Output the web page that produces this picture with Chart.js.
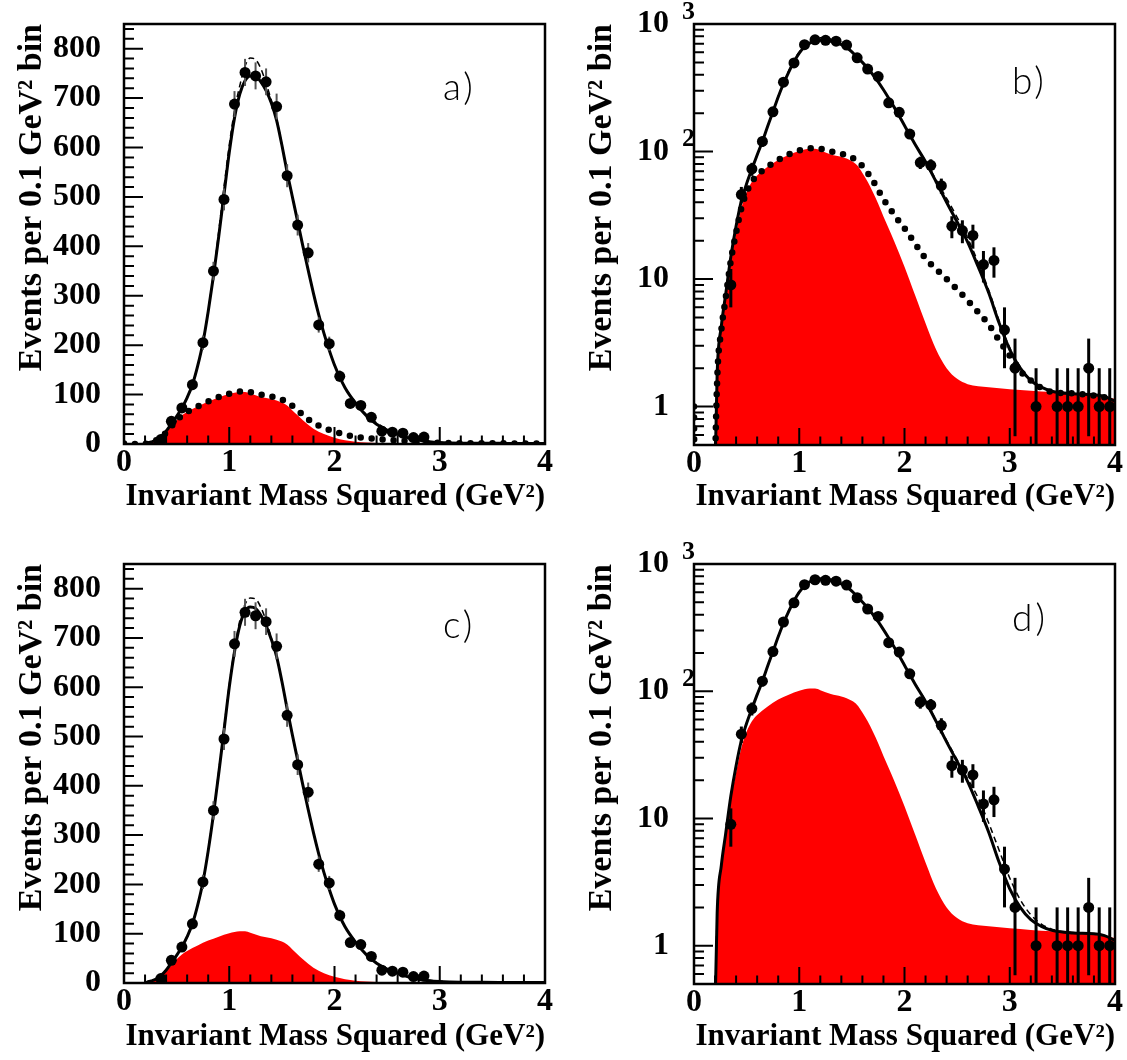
<!DOCTYPE html>
<html><head><meta charset="utf-8">
<script src="https://cdn.jsdelivr.net/npm/chart.js@4.4.0/dist/chart.umd.min.js"></script>
<style>
html,body{margin:0;padding:0;background:#fff;}
#wrap{position:relative;width:1127px;height:1060px;overflow:hidden;background:#fff;}
canvas{position:absolute;}
</style></head><body><div id="wrap">
<canvas id="pa" width="563" height="530" style="left:0;top:0;width:563px;height:530px"></canvas>
<canvas id="pb" width="564" height="530" style="left:563px;top:0;width:564px;height:530px"></canvas>
<canvas id="pc" width="563" height="530" style="left:0;top:530px;width:563px;height:530px"></canvas>
<canvas id="pd" width="564" height="530" style="left:563px;top:530px;width:564px;height:530px"></canvas>
</div>
<script>
// ---------------- data ----------------
const binCenters = [0.05,0.15,0.25,0.35,0.45,0.55,0.65,0.75,0.85,0.95,
                    1.05,1.15,1.25,1.35,1.45,1.55,1.65,1.75,1.85,1.95,
                    2.05,2.15,2.25,2.35,2.45,2.55,2.65,2.75,2.85,2.95,
                    3.05,3.15,3.25,3.35,3.45,3.55,3.65,3.75,3.85,3.95];
const counts = [0,0,0,9,46,73,120,205,350,495,
                688,752,745,733,683,543,443,387,241,203,
                137,82,78,54,26,24,22,13,14,4,
                2,0,1,0,1,1,1,2,1,1];

const fitX = [0.20,0.22,0.26,0.30,0.35,0.40,0.45,0.50,0.55,0.60,
              0.65,0.70,0.75,0.80,0.85,0.90,0.95,1.00,1.05,1.10,
              1.15,1.20,1.25,1.30,1.35,1.40,1.45,1.50,1.55,1.60,
              1.65,1.70,1.75,1.80,1.85,1.90,1.95,2.00,2.10,2.20,
              2.30,2.40,2.50,2.60,2.70,2.80,2.90,3.00,3.10,3.20,
              3.30,3.40,3.60,3.80,3.90,4.00];
const totalAB = [0.3,1.8,4.3,7.5,15,26,41,56,73,94,
                 120,158,205,268,340,420,505,590,660,708,
                 735,745,744,733,715,690,655,605,550,500,
                 450,400,352,305,262,224,190,160,114,83,
                 58,40,28,19.5,12.5,7.8,4.5,2.8,2.0,1.6,
                 1.42,1.32,1.26,1.24,1.2,1.1];
const dashedAB = [0.3,1.8,4.3,7.5,15,26,41,56,73,94,
                  120,158,205,270,345,430,520,605,675,725,
                  765,781,778,760,730,696,658,606,550,500,
                  450,400,352,305,262,224,190,160,115,84,
                  60,43,30.5,21,13.5,8.2,4.7,2.9,2.05,1.62,
                  1.43,1.33,1.26,1.24,1.2,1.1];
const totalCD = [0.3,1.8,4.3,7.5,15,26,41,56,73,94,
                 120,158,205,268,342,425,512,600,672,725,
                 754,763,760,746,725,697,662,612,556,503,
                 452,401,352,305,262,224,190,160,114,83,
                 58,40,28,19.5,12.5,7.8,4.5,2.8,2.0,1.6,
                 1.42,1.32,1.26,1.24,1.2,1.1];
const dashedCD = [0.3,1.8,4.3,7.5,15,26,41,56,73,94,
                  120,158,205,270,345,430,518,605,678,735,
                  768,781,779,762,735,700,664,612,556,503,
                  452,401,352,305,262,224,190,160,115,84,
                  59,41,29,20.5,14.5,9.2,5.6,3.4,2.3,1.75,
                  1.48,1.35,1.27,1.24,1.2,1.1];

const redX = [0.20,0.22,0.26,0.30,0.35,0.40,0.45,0.50,0.55,0.60,
              0.70,0.80,0.90,1.00,1.10,1.15,1.20,1.30,1.40,1.50,
              1.55,1.60,1.65,1.70,1.75,1.80,1.90,2.00,2.10,2.20,
              2.30,2.40,2.50,2.60,2.80,3.00,3.20,3.40,3.60,3.80,4.00];
const redY = [0.3,1.6,4.0,7.0,14,23,36,48,58,65,
              76,86,94,101,105,105,102,95,91,84,
              78,68,58,48,39,31,20,12.5,7.5,4.5,
              2.8,2.0,1.65,1.5,1.42,1.37,1.33,1.3,1.27,1.22,1.15];

const dotX = [0.00,0.01,0.19,0.20,0.22,0.26,0.30,0.35,0.40,0.45,
              0.50,0.55,0.60,0.70,0.80,0.90,1.00,1.10,1.20,1.30,
              1.40,1.50,1.55,1.60,1.65,1.70,1.75,1.80,1.85,1.90,
              2.00,2.10,2.20,2.30,2.40,2.50,2.60,2.70,2.80,2.90,
              3.00,3.10,3.20,3.30,3.40,3.60,3.80,4.00];
const dotY = [1.0,0.05,0.05,0.3,1.6,4.0,7.0,14,23,36,
              48,58,65,76,86,95,102,106,105,100,
              96,90,84,77,68,59,50,42,37,32,
              25,19,14.5,12,10,8.3,6.8,5.5,4.4,3.3,
              2.5,1.9,1.6,1.4,1.3,1.27,1.22,1.15];

const xTickValues = [0,1,2,3,4];
const linTickValues = [0,100,200,300,400,500,600,700,800];
const logTickValues = [1,10,100,1000];
const logTickText = ['1','10','10','10'];
const logTickSup = ['','','2','3'];

const xTitle = 'Invariant Mass Squared (GeV\u00B2)';
const yTitle = 'Events per 0.1 GeV\u00B2 bin';

// ---------------- helpers ----------------
const SERIF = '"Liberation Serif", "Times New Roman", serif';
const pairs = (xs, ys) => xs.map((x, i) => ({x: x, y: ys[i]}));

const decor = {
  id: 'decor',
  beforeDatasetDraw(chart, args, o) {
    if (args.index !== 0) return;
    const ctx = chart.ctx, ca = chart.chartArea, xs = chart.scales.x, ys = chart.scales.y;
    ctx.save();
    ctx.beginPath(); ctx.rect(ca.left, ca.top, ca.right - ca.left, ca.bottom - ca.top); ctx.clip();
    ctx.strokeStyle = o.errColor; ctx.lineWidth = o.errWidth;
    for (const p of chart.data.datasets[0].data) {
      if (p.y === null) continue;
      const e = Math.sqrt(p.y);
      const lo = Math.max(p.y - e, ys.min);
      const px = xs.getPixelForValue(p.x);
      ctx.beginPath();
      ctx.moveTo(px, ys.getPixelForValue(lo));
      ctx.lineTo(px, ys.getPixelForValue(p.y + e));
      ctx.stroke();
    }
    ctx.restore();
  },
  afterDraw(chart, args, o) {
    const ctx = chart.ctx, ca = chart.chartArea, xs = chart.scales.x, ys = chart.scales.y;
    ctx.save();
    ctx.strokeStyle = '#000'; ctx.lineWidth = 2;
    ctx.beginPath();
    for (let k = 0; k <= 20; k++) {
      const px = xs.getPixelForValue(k * 0.2);
      const len = (k % 5 === 0) ? 17 : 8.5;
      ctx.moveTo(px, ca.bottom); ctx.lineTo(px, ca.bottom - len);
    }
    if (o.log) {
      for (let d = -1; d <= 2; d++) for (let m = 1; m <= 9; m++) {
        const v = m * Math.pow(10, d);
        if (v < ys.min - 1e-9 || v > ys.max + 1e-9) continue;
        const py = ys.getPixelForValue(v);
        const len = m === 1 ? 19 : 10;
        ctx.moveTo(ca.left, py); ctx.lineTo(ca.left + len, py);
      }
    } else {
      for (let v = 0; v <= ys.max; v += 20) {
        const py = ys.getPixelForValue(v);
        const len = (v % 100 === 0) ? 19 : 10;
        ctx.moveTo(ca.left, py); ctx.lineTo(ca.left + len, py);
      }
    }
    ctx.stroke();
    ctx.lineWidth = 2.5;
    ctx.strokeRect(ca.left, ca.top, ca.right - ca.left, ca.bottom - ca.top);
    ctx.fillStyle = '#000';
    ctx.font = '300 37px Lato, "DejaVu Sans", sans-serif';
    ctx.textAlign = 'left'; ctx.textBaseline = 'alphabetic';
    try { ctx.letterSpacing = '3px'; } catch (e) {}
    ctx.fillText(o.label, o.lx, o.ly);
    try { ctx.letterSpacing = '0px'; } catch (e) {}
    if (o.log) {
      ctx.font = 'bold 26px ' + SERIF;
      ctx.textBaseline = 'middle';
      logTickValues.forEach((v, i) => {
        if (!logTickSup[i]) return;
        ctx.fillText(logTickSup[i], ca.left - 12, ys.getPixelForValue(v) - 12);
      });
    }
    ctx.restore();
  }
};

function noPad(s) { s.paddingTop = 0; s.paddingBottom = 0; s.paddingLeft = 0; s.paddingRight = 0; }

function makePanel(p) {
  const ctx = document.getElementById(p.id).getContext('2d');
  const dataPts = binCenters.map((x, i) => {
    const c = counts[i];
    const show = p.log ? c > 0 : c >= 9;
    return {x: x, y: show ? c : null};
  });
  const datasets = [
    {data: dataPts, showLine: false, pointRadius: 5.5, pointBackgroundColor: '#000',
     pointBorderWidth: 0, borderColor: '#000'},
    {data: pairs(fitX, p.total), borderColor: '#000', borderWidth: 3, pointRadius: 0,
     cubicInterpolationMode: 'monotone', fill: false},
    {data: pairs(fitX, p.dashed), borderColor: '#000', borderWidth: 1.5, borderDash: [6, 4],
     pointRadius: 0, cubicInterpolationMode: 'monotone', fill: false}
  ];
  if (p.dotted) {
    datasets.push({data: pairs(dotX, dotY), borderColor: '#000', borderWidth: 6.5,
      borderDash: [0, 11], borderCapStyle: 'round', pointRadius: 0,
      cubicInterpolationMode: 'monotone', fill: false});
  }
  datasets.push({data: pairs(redX, redY), borderWidth: 0, borderColor: 'rgba(0,0,0,0)',
    backgroundColor: '#ff0000', pointRadius: 0, cubicInterpolationMode: 'monotone',
    fill: p.log ? 'start' : 'origin'});

  const tickFont = {family: SERIF, weight: 'bold', size: 32, lineHeight: 1};
  const xTitleFont = {family: SERIF, weight: 'bold', size: 31, lineHeight: 1};
  const yTitleFont = {family: SERIF, weight: 'bold', size: 34, lineHeight: 1};
  const noGrid = {display: false, drawTicks: false, drawOnChartArea: false};

  const yScale = p.log ? {
    type: 'logarithmic', min: 0.5, max: 1000,
    afterBuildTicks: s => { s.ticks = logTickValues.map(v => ({value: v})); },
    ticks: {font: tickFont, color: '#000', padding: 25, autoSkip: false,
            callback: v => { const i = logTickValues.indexOf(v); return i >= 0 ? logTickText[i] : ''; }}
  } : {
    type: 'linear', min: 0, max: 850,
    afterBuildTicks: s => { s.ticks = linTickValues.map(v => ({value: v})); },
    ticks: {font: tickFont, color: '#000', padding: 23, autoSkip: false, callback: v => String(v)}
  };
  Object.assign(yScale, {
    grid: noGrid, border: {display: false},
    afterFit: s => { s.width = p.yW; noPad(s); },
    title: {display: true, text: yTitle, font: yTitleFont, color: '#000', align: 'end',
            padding: {top: p.yTitlePad, bottom: 0}}
  });

  return new Chart(ctx, {
    type: 'line',
    data: {datasets: datasets},
    options: {
      responsive: false, animation: false, devicePixelRatio: 1, events: [],
      layout: {padding: {top: p.padTop, right: p.padRight, left: 0, bottom: 0}},
      plugins: {
        legend: {display: false}, tooltip: {enabled: false},
        decor: {log: p.log, label: p.label, lx: p.lx, ly: p.ly,
                errColor: p.log ? '#000' : '#555', errWidth: p.log ? 3 : 2}
      },
      scales: {
        x: {
          type: 'linear', min: 0, max: 4,
          afterBuildTicks: s => { s.ticks = xTickValues.map(v => ({value: v})); },
          ticks: {font: tickFont, color: '#000', padding: 3, autoSkip: false, maxRotation: 0,
                  callback: v => String(v)},
          grid: noGrid, border: {display: false},
          afterFit: s => { s.height = p.xH; noPad(s); },
          title: {display: true, text: xTitle, font: xTitleFont, color: '#000', align: 'end',
                  padding: {top: 0, bottom: p.xTitlePad}}
        },
        y: yScale
      }
    },
    plugins: [decor]
  });
}

makePanel({id: 'pa', log: false, total: totalAB, dashed: dashedAB, dotted: true,
  padTop: 24, padRight: 18, yW: 124, xH: 86, yTitlePad: 15, xTitlePad: 17.5,
  label: 'a)', lx: 443, ly: 100});
makePanel({id: 'pb', log: true, total: totalAB, dashed: dashedAB, dotted: true,
  padTop: 24, padRight: 12, yW: 131, xH: 85, yTitlePad: 22, xTitlePad: 17.5,
  label: 'b)', lx: 449, ly: 94});
makePanel({id: 'pc', log: false, total: totalCD, dashed: dashedCD, dotted: false,
  padTop: 34, padRight: 18, yW: 124, xH: 77, yTitlePad: 15, xTitlePad: 7.5,
  label: 'c)', lx: 443, ly: 108});
makePanel({id: 'pd', log: true, total: totalCD, dashed: dashedCD, dotted: false,
  padTop: 34, padRight: 12, yW: 131, xH: 76, yTitlePad: 22, xTitlePad: 7.5,
  label: 'd)', lx: 449, ly: 101});
</script>
</body></html>
